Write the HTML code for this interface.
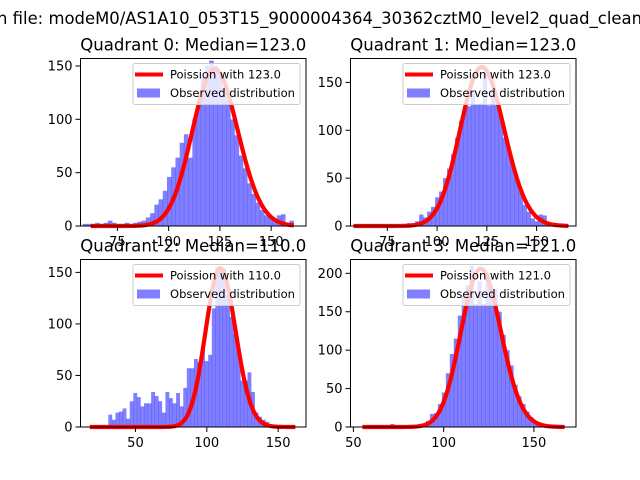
<!DOCTYPE html>
<html><head><meta charset="utf-8"><style>
html,body{margin:0;padding:0;background:#fff;}
svg{display:block;font-family:"DejaVu Sans","Liberation Sans",sans-serif;}
</style></head><body>
<svg id="fig" width="640" height="480" viewBox="0 0 640 480" xmlns="http://www.w3.org/2000/svg">
<rect width="640" height="480" fill="#fff"/>
<text x="-3" y="24" font-size="16.5" textLength="645" lengthAdjust="spacingAndGlyphs">n file: modeM0/AS1A10_053T15_9000004364_30362cztM0_level2_quad_clean</text>
</svg>
<script>
// Quadrant 0
const q0Start = 58, q0Width = 2.06;
const q0Counts = [2,2,2,3,2,3,5,3,2,2,3,2,3,4,5,8,12,20,25,33,46,55,64,78,86,64,100,115,140,150,155,150,140,130,118,100,85,66,54,40,30,22,15,10,8,6,10,11,3,5];
const q0Lambda = 123.0, q0Peak = 147, q0CurveRange = [62, 161];
// Quadrant 1
const q1Start = 59, q1Width = 2.0;
const q1Counts = [1,1,1,1,2,2,1,2,1,1,1,1,2,3,2,5,12,9,15,20,30,36,50,60,75,92,110,125,125,140,127,128,160,126,140,126,115,92,80,65,50,36,22,15,8,5,12,11,1,0];
const q1Lambda = 123.0, q1Peak = 166, q1CurveRange = [58, 166];
// Quadrant 2
const q2Start = 31, q2Width = 2.5;
const q2Counts = [12,7,14,15,18,8,25,33,29,20,23,23,34,30,25,14,34,28,23,33,20,38,57,57,66,63,77,64,70,115,155,155,154,128,107,91,73,45,45,53,34,14,10,7,5,2,0,0,0,0];
const q2Lambda = 110.0, q2Peak = 154, q2CurveRange = [18, 162];
// Quadrant 3
const q3Start = 55, q3Width = 2.2;
const q3Counts = [0,0,0,0,0,0,0,4,0,1,0,1,1,1,4,3,8,17,18,30,45,70,95,115,145,170,185,210,160,190,160,200,175,180,150,120,100,80,55,40,30,20,13,8,3,0,0,0,0,0];
const q3Lambda = 121.0, q3Peak = 206, q3CurveRange = [55, 167];

const panels = [
 {title:"Quadrant 0: Median=123.0", x0:80.5, y0:58.5, w:225.5, h:167.5, xmin:57, xmax:167, ymax:157, xticks:[75,100,125,150], yticks:[0,50,100,150], start:q0Start, width:q0Width, counts:q0Counts, lambda:q0Lambda, peak:q0Peak, cr:q0CurveRange},
 {title:"Quadrant 1: Median=123.0", x0:350.5, y0:58.5, w:225.5, h:167.5, xmin:56.5, xmax:169.8, ymax:175, xticks:[75,100,125,150], yticks:[0,50,100,150], start:q1Start, width:q1Width, counts:q1Counts, lambda:q1Lambda, peak:q1Peak, cr:q1CurveRange},
 {title:"Quadrant 2: Median=110.0", x0:80.5, y0:259.5, w:225.5, h:167.5, xmin:11.5, xmax:169.5, ymax:162.5, xticks:[50,100,150], yticks:[0,50,100,150], start:q2Start, width:q2Width, counts:q2Counts, lambda:q2Lambda, peak:q2Peak, cr:q2CurveRange},
 {title:"Quadrant 3: Median=121.0", x0:350.5, y0:259.5, w:225.5, h:167.5, xmin:48.4, xmax:173.3, ymax:218, xticks:[50,100,150], yticks:[0,50,100,150,200], start:q3Start, width:q3Width, counts:q3Counts, lambda:q3Lambda, peak:q3Peak, cr:q3CurveRange}
];
const NS="http://www.w3.org/2000/svg";
const svg=document.getElementById('fig');
function mk(tag, attrs, parent){const e=document.createElementNS(NS,tag);for(const k in attrs)e.setAttribute(k,attrs[k]);(parent||svg).appendChild(e);return e;}
function logPois(k,l){
  const z=k+1;
  const lg=(z-0.5)*Math.log(z)-z+0.5*Math.log(2*Math.PI)+1/(12*z);
  return k*Math.log(l)-l-lg;
}
panels.forEach((p,pi)=>{
  const g=mk('g',{});
  
  
  const X=v=>p.x0+(v-p.xmin)/(p.xmax-p.xmin)*p.w;
  const Y=v=>p.y0+p.h-v/p.ymax*p.h;
  p.counts.forEach((c,i)=>{
    if(c<=0) return;
    const a=p.start+i*p.width, b=a+p.width;
    const r=mk('rect',{x:X(a),y:Y(c),width:X(b)-X(a)+0.3,height:Y(0)-Y(c),fill:'#0000ff','fill-opacity':0.5},g);
    
    
  });
  const pk=Math.exp(logPois(p.lambda,p.lambda));
  let d='';
  for(let k=Math.ceil(p.cr[0]);k<=Math.floor(p.cr[1]);k++){
    const v=p.peak*Math.exp(logPois(k,p.lambda))/pk;
    d+=(d?'L':'M')+X(k).toFixed(2)+','+Y(v).toFixed(2);
  }
  const path=mk('path',{d:d,fill:'none',stroke:'#ff0000','stroke-width':4.2,'stroke-linejoin':'round'},g);
  
  
  const fr=mk('rect',{x:p.x0,y:p.y0,width:p.w,height:p.h,fill:'none',stroke:'#000','stroke-width':1},g);
  
  
  p.xticks.forEach(t=>{
    const x=X(t);
    mk('line',{x1:x,x2:x,y1:p.y0+p.h,y2:p.y0+p.h+5,stroke:'#000','stroke-width':1},g);
    const tx=mk('text',{x:x,y:p.y0+p.h+20,'font-size':13,'text-anchor':'middle'},g);
    tx.textContent=t;
    
    
  });
  p.yticks.forEach(t=>{
    const y=Y(t);
    mk('line',{x1:p.x0-5,x2:p.x0,y1:y,y2:y,stroke:'#000','stroke-width':1},g);
    const tx=mk('text',{x:p.x0-8,y:y+4.5,'font-size':13,'text-anchor':'end'},g);
    tx.textContent=t;
    
    
  });
  const tt=mk('text',{x:p.x0+p.w/2,y:p.y0-8,'font-size':16.5,'text-anchor':'middle',textLength:226,lengthAdjust:'spacingAndGlyphs'},g);
  tt.textContent=p.title;
  
  
  const lx=p.x0+p.w-173, ly=p.y0+5;
  const lg=mk('g',{},g);
  
  
  mk('rect',{x:lx,y:ly,width:167,height:41,rx:2,fill:'#fff','fill-opacity':0.8,stroke:'#ccc','stroke-width':1},lg);
  mk('line',{x1:lx+2,x2:lx+30,y1:ly+11,y2:ly+11,stroke:'#ff0000','stroke-width':4},lg);
  mk('rect',{x:lx+4,y:ly+25,width:23,height:9,fill:'#0000ff','fill-opacity':0.5},lg);
  const t1=mk('text',{x:lx+37,y:ly+15,'font-size':11.5},lg);
  t1.textContent='Poission with '+p.lambda.toFixed(1);
  
  
  const t2=mk('text',{x:lx+37,y:ly+33.5,'font-size':11.5,textLength:125,lengthAdjust:'spacingAndGlyphs'},lg);
  t2.textContent='Observed distribution';
  
  
});
</script>
</body></html>
